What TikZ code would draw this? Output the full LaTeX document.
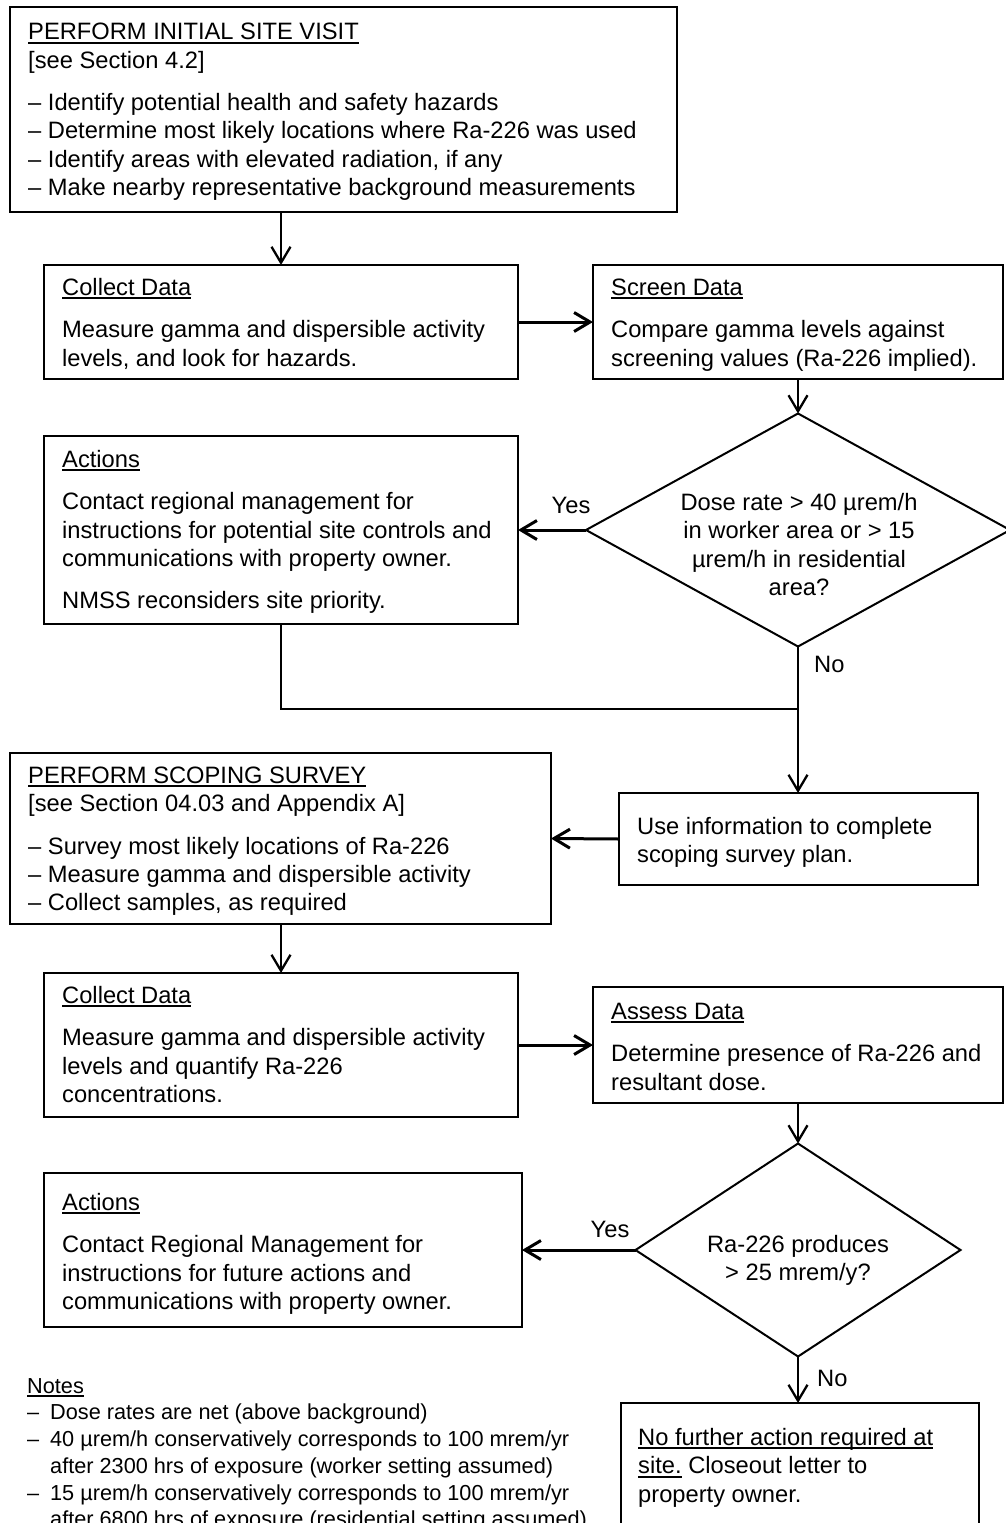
\documentclass[tikz,border=0pt]{standalone}
\usepackage{fontspec}
\setmainfont{Liberation Sans}
\usetikzlibrary{arrows.meta,shapes.geometric}
\newsavebox\ulbox
\newcommand\ulx[1]{\sbox\ulbox{#1}\rlap{\rule[-3.9pt]{\wd\ulbox}{1.8pt}}\usebox\ulbox}
\newcommand\tops{\rule{0pt}{20pt}}
\newcommand\topn{\rule{0pt}{18pt}}
\newcommand\mainfs{\fontsize{23.7pt}{28.4pt}\selectfont}
\newcommand\notefs{\fontsize{21.7pt}{26.7pt}\selectfont}
\begin{document}
\begin{tikzpicture}[x=1pt,y=-1pt,
  rbox/.style 2 args={draw, line width=2pt, rectangle, inner sep=0pt, outer sep=0pt,
    anchor=north west, minimum width=#1, minimum height=#2},
  dbox/.style 2 args={draw, line width=2pt, diamond, inner sep=0pt, outer sep=0pt,
    minimum width=#1, minimum height=#2},
  txt/.style={font=\mainfs, align=left, inner sep=0pt, anchor=north west},
  ctxt/.style={font=\mainfs, align=center, inner sep=0pt, anchor=north},
  lbl/.style={font=\mainfs, inner sep=0pt},
  vconn/.style={line width=2.3pt, -{Straight Barb[length=16pt,width=19pt]}},
  hconn/.style={line width=3pt, -{Straight Barb[length=16pt,width=19pt]}},
  plain/.style={line width=2.3pt}]
\useasboundingbox (0,0) rectangle (1005,1523);

% boxes
\node[rbox={667}{205}] (b1) at (10,7) {};
\node[rbox={474}{114}] (cd1) at (44,265) {};
\node[rbox={410}{114}] (sd) at (593,265) {};
\node[dbox={424}{233}] (d1) at (798,530) {};
\node[rbox={474}{188}] (a1) at (44,436) {};
\node[rbox={541}{171}] (sc) at (10,753) {};
\node[rbox={359}{92}] (ui) at (619,793) {};
\node[rbox={474}{144}] (cd2) at (44,973) {};
\node[rbox={410}{116}] (as) at (593,987) {};
\node[dbox={325}{213}] (d2) at (798,1250) {};
\node[rbox={478}{154}] (a2) at (44,1173) {};
\node[rbox={358}{150}] (fin) at (621,1403) {};

% texts
\node[txt] (t1) at (28,19.5) {\tops\ulx{PERFORM INITIAL SITE VISIT}\\ {[}see Section 4.2]\\[14pt]
– Identify potential health and safety hazards\\
– Determine most likely locations where Ra-226 was used\\
– Identify areas with elevated radiation, if any\\
– Make nearby representative background measurements};
\node[txt] (tcd1) at (62,275) {\tops\ulx{Collect Data}\\[14pt]
Measure gamma and dispersible activity\\ levels, and look for hazards.};
\node[txt] (tsd) at (611,275) {\tops\ulx{Screen Data}\\[14pt]
Compare gamma levels against\\ screening values (Ra-226 implied).};
\node[ctxt] (td1) at (799,490) {\tops Dose rate > 40 µrem/h\\ in worker area or > 15\\ µrem/h in residential\\ area?};
\node[txt] (ta1) at (62,447) {\tops\ulx{Actions}\\[14pt]
Contact regional management for\\
instructions for potential site controls and\\
communications with property owner.\\[14pt]
NMSS reconsiders site priority.};
\node[txt] (tsc) at (28,763) {\tops\ulx{PERFORM SCOPING SURVEY}\\ {[}see Section 04.03 and Appendix A]\\[14pt]
– Survey most likely locations of Ra-226\\
– Measure gamma and dispersible activity\\
– Collect samples, as required};
\node[txt] (tui) at (637,814) {\tops Use information to complete\\ scoping survey plan.};
\node[txt] (tcd2) at (62,983) {\tops\ulx{Collect Data}\\[14pt]
Measure gamma and dispersible activity\\ levels and quantify Ra-226\\ concentrations.};
\node[txt] (tas) at (611,999) {\tops\ulx{Assess Data}\\[14pt]
Determine presence of Ra-226 and\\ resultant dose.};
\node[ctxt] (td2) at (798,1232) {\tops Ra-226 produces\\ > 25 mrem/y?};
\node[txt] (ta2) at (62,1190) {\tops\ulx{Actions}\\[14pt]
Contact Regional Management for\\
instructions for future actions and\\
communications with property owner.};
\node[txt] (tfin) at (638,1425) {\tops\ulx{No further action required at}\\
\ulx{site.} Closeout letter to\\ property owner.};
\node[txt, font=\notefs] (notes) at (27,1375) {\topn\ulx{Notes}\\
\makebox[23pt][l]{–}Dose rates are net (above background)\\
\makebox[23pt][l]{–}40 µrem/h conservatively corresponds to 100 mrem/yr\\
\hspace*{23pt}after 2300 hrs of exposure (worker setting assumed)\\
\makebox[23pt][l]{–}15 µrem/h conservatively corresponds to 100 mrem/yr\\
\hspace*{23pt}after 6800 hrs of exposure (residential setting assumed)};

% labels
\node[lbl, anchor=base] (yes1) at (571,513) {Yes};
\node[lbl, anchor=base west] (no1) at (814,672) {No};
\node[lbl, anchor=base] (yes2) at (610,1237) {Yes};
\node[lbl, anchor=base west] (no2) at (817,1386) {No};

% connectors
\coordinate (j1) at (798,709);
\draw[vconn] (cd1.north |- b1.south) -- (cd1.north);
\draw[hconn] (cd1.east) -- (sd.west);
\draw[vconn] (sd.south) -- (d1.north);
\draw[hconn] (d1.west) -- (a1.east);
\draw[plain] (a1.south) |- (j1);
\draw[vconn] (d1.south) -- (d1.south |- ui.north);
\draw[hconn] (ui.west) -- (sc.east);
\draw[vconn] (cd2.north |- sc.south) -- (cd2.north);
\draw[hconn] (cd2.east) -- (as.west);
\draw[vconn] (as.south) -- (d2.north);
\draw[hconn] (d2.west) -- (a2.east);
\draw[vconn] (d2.south) -- (d2.south |- fin.north);
\end{tikzpicture}
\end{document}
